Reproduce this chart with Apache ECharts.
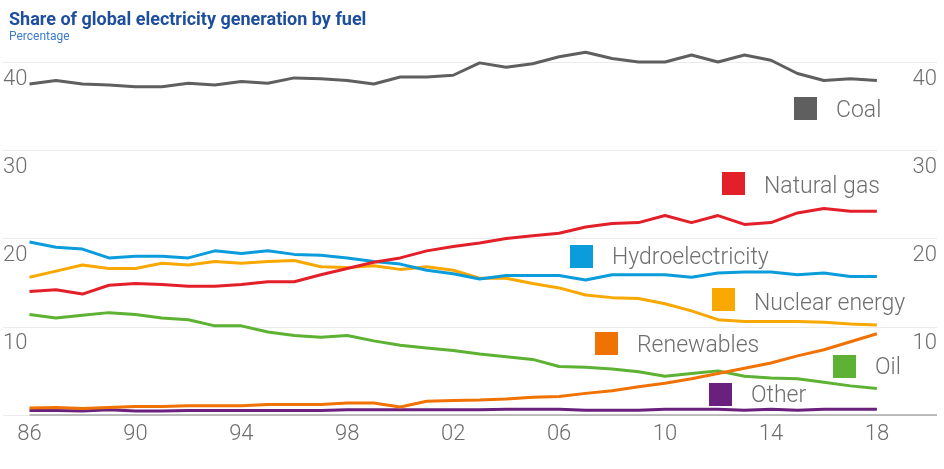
<!DOCTYPE html>
<html>
<head>
<meta charset="utf-8">
<script src="https://cdn.jsdelivr.net/npm/echarts@6/dist/echarts.min.js"></script>
<style>
  html, body { margin: 0; padding: 0; background: #fff; }
  #chart { width: 944px; height: 469px; }
</style>
</head>
<body>
<div id="chart"></div>
<script>
const years = [1986, 1987, 1988, 1989, 1990, 1991, 1992, 1993, 1994, 1995, 1996,
  1997, 1998, 1999, 2000, 2001, 2002, 2003, 2004, 2005, 2006, 2007, 2008,
  2009, 2010, 2011, 2012, 2013, 2014, 2015, 2016, 2017, 2018]

const coal = [37.5, 37.9, 37.5, 37.4, 37.2, 37.2, 37.6, 37.4, 37.8, 37.6, 38.2,
  38.1, 37.9, 37.5, 38.3, 38.3, 38.5, 39.9, 39.4, 39.8, 40.6, 41.1, 40.4,
  40.0, 40.0, 40.8, 40.0, 40.8, 40.2, 38.7, 37.9, 38.1, 37.9]

const naturalGas = [14.0, 14.2, 13.7, 14.7, 14.9, 14.8, 14.6, 14.6, 14.8, 15.1, 15.1,
  15.9, 16.6, 17.3, 17.8, 18.6, 19.1, 19.5, 20.0, 20.3, 20.6, 21.3, 21.7,
  21.8, 22.6, 21.8, 22.6, 21.6, 21.8, 22.9, 23.4, 23.1, 23.1]

const hydro = [19.6, 19.0, 18.8, 17.8, 18.0, 18.0, 17.8, 18.6, 18.3, 18.6, 18.2,
  18.1, 17.8, 17.4, 17.1, 16.4, 16.0, 15.4, 15.8, 15.8, 15.8, 15.3, 15.9,
  15.9, 15.9, 15.6, 16.1, 16.2, 16.2, 15.9, 16.1, 15.7, 15.7]

const nuclear = [15.6, 16.3, 17.0, 16.6, 16.6, 17.2, 17.0, 17.4, 17.2, 17.4, 17.5,
  16.8, 16.7, 16.9, 16.5, 16.8, 16.4, 15.5, 15.5, 14.9, 14.4, 13.6, 13.3,
  13.2, 12.6, 11.8, 10.8, 10.6, 10.6, 10.6, 10.5, 10.3, 10.2]

const renewables = [0.8, 0.85, 0.75, 0.85, 0.95, 0.95, 1.05, 1.05, 1.05, 1.2, 1.2,
  1.2, 1.35, 1.35, 0.9, 1.55, 1.65, 1.7, 1.8, 2.0, 2.1, 2.45, 2.75,
  3.2, 3.6, 4.1, 4.7, 5.3, 5.9, 6.7, 7.4, 8.3, 9.2]

const oil = [11.4, 11.0, 11.3, 11.6, 11.4, 11.0, 10.8, 10.1, 10.1, 9.4, 9.0,
  8.8, 9.0, 8.4, 7.9, 7.6, 7.3, 6.9, 6.6, 6.3, 5.5, 5.4, 5.2,
  4.9, 4.4, 4.7, 5.0, 4.4, 4.2, 4.1, 3.7, 3.3, 3.0]

const other = [0.5, 0.5, 0.45, 0.6, 0.45, 0.45, 0.5, 0.5, 0.5, 0.5, 0.5,
  0.5, 0.6, 0.6, 0.6, 0.6, 0.6, 0.6, 0.65, 0.65, 0.65, 0.55, 0.55,
  0.55, 0.65, 0.65, 0.65, 0.55, 0.65, 0.55, 0.65, 0.65, 0.65]

const yTicks = [10, 20, 30, 40]
const xLabelYears = [1986, 1990, 1994, 1998, 2002, 2006, 2010, 2014, 2018]

const FONT = 'Roboto'
const GREY_TEXT = '#6e6e6e'

const chart = echarts.init(document.getElementById('chart'))

function pairs(values) {
  return years.map((y, i) => [y, values[i]])
}

function lineSeries(name, values, color, extra) {
  return Object.assign({
    name: name,
    type: 'line',
    data: pairs(values),
    symbol: 'none',
    clip: false,
    lineStyle: { color: color, width: 3 },
    itemStyle: { color: color },
    silent: true
  }, extra || {})
}

// inline labels next to each line, as in the original
const keys = [
  { label: 'Coal', color: '#5f5f5f', x: 794, y: 97, ty: 111 },
  { label: 'Natural gas', color: '#e3202a', x: 722, y: 172, ty: 187 },
  { label: 'Hydroelectricity', color: '#0b9cdc', x: 570, y: 245, ty: 258 },
  { label: 'Nuclear energy', color: '#f8a800', x: 712, y: 288, ty: 304 },
  { label: 'Renewables', color: '#ef7203', x: 595, y: 332, ty: 346 },
  { label: 'Oil', color: '#5db133', x: 833, y: 355, ty: 368 },
  { label: 'Other', color: '#6a217d', x: 709, y: 383, ty: 396 }
]

const graphics = []
keys.forEach(k => {
  graphics.push({
    type: 'rect',
    left: k.x, top: k.y,
    shape: { width: 23, height: 23 },
    style: { fill: k.color }
  })
  graphics.push({
    type: 'text',
    x: k.x + 42, y: k.ty,
    style: {
      text: k.label,
      fill: GREY_TEXT,
      font: '300 23px ' + FONT,
      textVerticalAlign: 'middle'
    }
  })
})

const yAxisCommon = {
  type: 'value',
  min: 0,
  max: 40,
  interval: 10,
  axisLine: { show: false },
  axisTick: { show: false },
  splitLine: { lineStyle: { color: '#ebebeb', width: 1 } },
  axisLabel: {
    inside: true,
    margin: 0,
    verticalAlign: 'top',
    padding: [6, 0, 0, 0],
    color: GREY_TEXT,
    fontFamily: FONT,
    fontWeight: 300,
    fontSize: 22,
    formatter: v => yTicks.indexOf(v) >= 0 ? String(v) : ''
  }
}

const option = {
  animation: false,
  backgroundColor: '#fff',
  title: {
    text: 'Share of global electricity generation by fuel',
    subtext: 'Percentage',
    left: 4,
    top: 6,
    itemGap: 2,
    textStyle: { color: '#1d4f9e', fontFamily: FONT, fontWeight: 'bold', fontSize: 18 },
    subtextStyle: { color: '#3b7bcb', fontFamily: FONT, fontSize: 12 }
  },
  grid: { left: 3, right: 7, top: 62, bottom: 54 },
  xAxis: {
    type: 'value',
    min: 1985,
    max: 2020.27,
    interval: 1,
    axisLine: { show: false },
    axisTick: { show: false },
    splitLine: { show: false },
    axisLabel: {
      margin: 8,
      color: GREY_TEXT,
      fontFamily: FONT,
      fontWeight: 300,
      fontSize: 22,
      formatter: v => xLabelYears.indexOf(v) >= 0 ? String(v).slice(2) : ''
    }
  },
  yAxis: [
    Object.assign({}, yAxisCommon, { position: 'left' }),
    Object.assign({}, yAxisCommon, {
      position: 'right',
      splitLine: { show: false },
      axisLabel: Object.assign({}, yAxisCommon.axisLabel, { align: 'right' })
    })
  ],
  graphic: graphics,
  series: [
    lineSeries('Other', other, '#6a217d', {
      markLine: {
        silent: true,
        symbol: 'none',
        label: { show: false },
        lineStyle: { color: '#a9a9a9', width: 1.5, type: 'solid' },
        data: [[{ coord: [1986, 0] }, { coord: [2020.27, 0] }]]
      }
    }),
    lineSeries('Oil', oil, '#5db133'),
    lineSeries('Renewables', renewables, '#ef7203'),
    lineSeries('Nuclear energy', nuclear, '#f8a800'),
    lineSeries('Hydroelectricity', hydro, '#0b9cdc'),
    lineSeries('Natural gas', naturalGas, '#e3202a'),
    lineSeries('Coal', coal, '#5f5f5f')
  ]
}

chart.setOption(option)
</script>
</body>
</html>
